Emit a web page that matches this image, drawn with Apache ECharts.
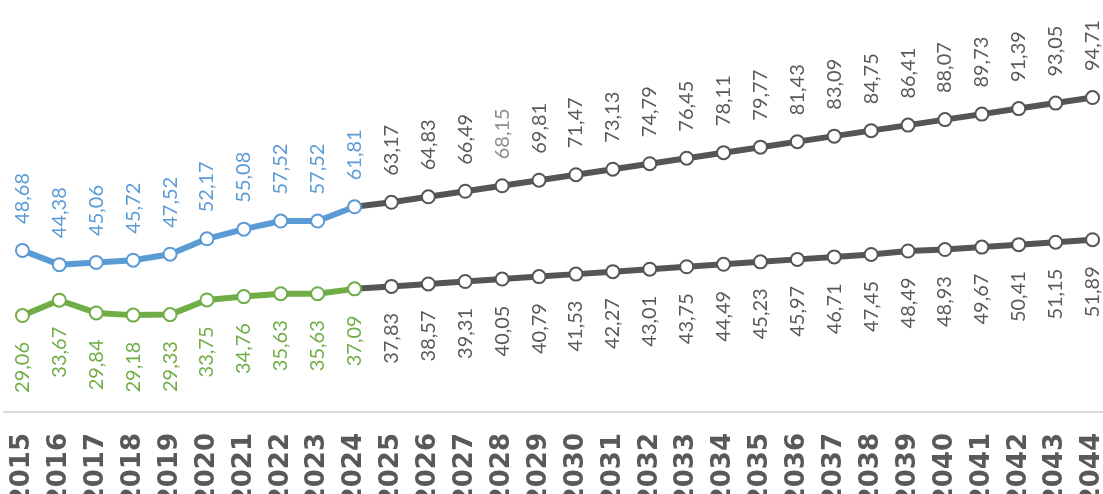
<!DOCTYPE html>
<html>
<head>
<meta charset="utf-8">
<script src="https://cdn.jsdelivr.net/npm/echarts@6/dist/echarts.min.js"></script>
<style>
  html, body { margin: 0; padding: 0; background: #fff; }
  #chart { width: 1103px; height: 494px; }
</style>
</head>
<body>
<div id="chart"></div>
<script>
// --- data ---
const years = [2015, 2016, 2017, 2018, 2019, 2020, 2021, 2022, 2023, 2024,
  2025, 2026, 2027, 2028, 2029, 2030, 2031, 2032, 2033, 2034,
  2035, 2036, 2037, 2038, 2039, 2040, 2041, 2042, 2043, 2044];
const upperValues = [48.68, 44.38, 45.06, 45.72, 47.52, 52.17, 55.08, 57.52, 57.52, 61.81,
  63.17, 64.83, 66.49, 68.15, 69.81, 71.47, 73.13, 74.79, 76.45, 78.11,
  79.77, 81.43, 83.09, 84.75, 86.41, 88.07, 89.73, 91.39, 93.05, 94.71];
const lowerValues = [29.06, 33.67, 29.84, 29.18, 29.33, 33.75, 34.76, 35.63, 35.63, 37.09,
  37.83, 38.57, 39.31, 40.05, 40.79, 41.53, 42.27, 43.01, 43.75, 44.49,
  45.23, 45.97, 46.71, 47.45, 48.49, 48.93, 49.67, 50.41, 51.15, 51.89];
const lastActualYear = 2024;
const dimLabelYears = [2028]; // label drawn in a lighter grey on the upper line

// --- styles ---
const BLUE = "#5b9bd5", GREEN = "#70ad47", GREY = "#555555", TEXT_GREY = "#595959";
const FONT = "Lato, 'Open Sans', sans-serif";
const fmt = (v) => v.toFixed(2).replace(".", ",");
const splitIdx = years.indexOf(lastActualYear);

function labelCfg(pos, color) {
  return {
    show: true,
    position: pos,
    distance: 19,
    rotate: 90,
    align: pos === "top" ? "left" : "right",
    verticalAlign: "middle",
    color,
    fontFamily: FONT,
    fontSize: 20,
    formatter: (p) => fmt(p.value),
  };
}

function histSeries(values, color, pos) {
  return {
    type: "line",
    z: 3,
    data: values.map((v, i) => (i <= splitIdx ? v : null)),
    lineStyle: { color, width: 6 },
    itemStyle: { color: "#fff", borderColor: color, borderWidth: 2 },
    symbol: "circle",
    symbolSize: 13,
    label: labelCfg(pos, color),
  };
}

function projSeries(values, pos, dimYears) {
  return {
    type: "line",
    z: 2,
    data: values.map((v, i) => {
      if (i < splitIdx) return null;
      if (i === splitIdx) return { value: v, symbol: "none", label: { show: false } };
      if (dimYears.includes(years[i])) return { value: v, label: { color: "#8c8c8c" } };
      return v;
    }),
    lineStyle: { color: GREY, width: 6 },
    itemStyle: { color: "#fff", borderColor: GREY, borderWidth: 2 },
    symbol: "circle",
    symbolSize: 13,
    label: labelCfg(pos, TEXT_GREY),
  };
}

const chart = echarts.init(document.getElementById("chart"), null, { renderer: "canvas" });
chart.setOption({
  animation: false,
  backgroundColor: "#fff",
  grid: { left: 4, right: -8, top: 80, bottom: 82, outerBoundsMode: "none", containLabel: false },
  xAxis: {
    type: "category",
    data: years.map(String),
    boundaryGap: true,
    axisLine: { lineStyle: { color: "#d9d9d9", width: 2 } },
    axisTick: { show: false },
    axisLabel: {
      rotate: 90,
      margin: 21,
      interval: 0,
      color: TEXT_GREY,
      fontFamily: "'DejaVu Sans', sans-serif",
      fontWeight: "bold",
      fontSize: 26,
    },
  },
  yAxis: {
    type: "value",
    min: 0,
    max: 100,
    show: false,
    splitLine: { show: false },
  },
  series: [
    projSeries(upperValues, "top", dimLabelYears),
    projSeries(lowerValues, "bottom", []),
    histSeries(upperValues, BLUE, "top"),
    histSeries(lowerValues, GREEN, "bottom"),
  ],
});
</script>
</body>
</html>
